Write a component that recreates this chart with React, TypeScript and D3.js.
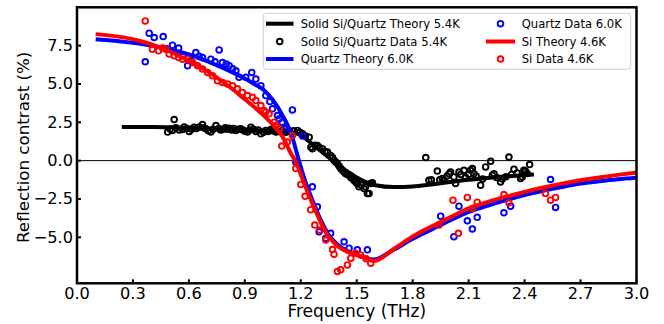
import React from 'react';
import * as d3 from 'd3';

const W = 664;
const H = 324;
const PLOT = { left: 77, right: 636.5, top: 7.3, bottom: 283.3 };

const xTicks = [0, 0.3, 0.6, 0.9, 1.2, 1.5, 1.8, 2.1, 2.4, 2.7, 3.0];
const yTicks = [-5, -2.5, 0, 2.5, 5, 7.5];

type P = [number, number];

const solidTheory: P[] = [
  [0.24, 2.2], [0.4, 2.2], [0.6, 2.15], [0.8, 2.05], [1.0, 1.95], [1.1, 1.9], [1.15, 1.85],
  [1.2, 1.65], [1.25, 1.2], [1.3, 0.7], [1.35, 0.2], [1.4, -0.3], [1.45, -0.7], [1.5, -1.1],
  [1.55, -1.4], [1.6, -1.6], [1.7, -1.72], [1.8, -1.68], [1.9, -1.55], [2.0, -1.4],
  [2.1, -1.25], [2.2, -1.13], [2.3, -1.03], [2.45, -0.9],
];

const solidData: P[] = [
  [0.486, 1.86], [0.5, 2.05], [0.512, 1.97], [0.521, 2.68], [0.53, 2.15], [0.548, 2.0],
  [0.566, 2.03], [0.575, 2.2], [0.59, 2.1], [0.602, 1.9], [0.615, 2.05], [0.628, 2.18],
  [0.64, 2.1], [0.655, 2.2], [0.673, 2.35], [0.68, 2.15], [0.691, 2.08], [0.705, 1.95],
  [0.718, 1.86], [0.73, 2.05], [0.745, 2.29], [0.76, 2.1], [0.77, 2.0], [0.78, 2.03],
  [0.795, 2.15], [0.805, 2.05], [0.816, 2.12], [0.83, 2.0], [0.84, 2.1], [0.852, 1.97],
  [0.865, 2.05], [0.878, 2.08], [0.89, 2.0], [0.9, 1.92], [0.914, 1.86], [0.925, 2.0],
  [0.932, 2.18], [0.945, 2.05], [0.959, 1.9], [0.972, 2.0], [0.986, 1.75], [1.0, 1.85],
  [1.012, 1.97], [1.025, 1.9], [1.039, 2.03], [1.05, 1.95], [1.066, 1.86], [1.08, 1.9],
  [1.1, 1.97], [1.12, 1.85], [1.14, 1.9], [1.16, 1.95], [1.182, 1.97], [1.195, 1.85],
  [1.209, 1.75], [1.225, 1.6], [1.245, 1.53], [1.254, 0.88], [1.262, 0.78], [1.275, 1.0],
  [1.289, 0.99], [1.3, 0.85], [1.316, 0.78], [1.33, 0.6], [1.343, 0.56], [1.36, 0.34],
  [1.37, 0.2], [1.378, 0.02], [1.387, -0.09], [1.396, -0.19], [1.405, -0.35], [1.414, -0.52],
  [1.423, -0.63], [1.432, -0.74], [1.441, -0.85], [1.45, -0.9], [1.459, -0.95], [1.468, -1.1],
  [1.476, -1.17], [1.486, -1.3], [1.494, -1.39], [1.503, -1.5], [1.512, -1.71], [1.525, -1.6],
  [1.539, -1.82], [1.547, -1.71], [1.557, -2.14], [1.566, -2.14], [1.575, -1.49], [1.584, -1.45],
  [1.87, 0.2], [1.887, -1.28], [1.9, -1.25], [1.932, -0.68], [1.945, -1.25], [1.959, -1.17],
  [1.968, -1.28], [1.985, -1.0], [1.995, -0.85], [2.003, -0.74], [2.021, -1.06], [2.03, -1.49],
  [2.048, -0.74], [2.057, -0.9], [2.075, -0.63], [2.084, -1.1], [2.1, -0.9], [2.11, -0.63],
  [2.12, -0.52], [2.128, -0.85], [2.14, -1.0], [2.164, -1.6], [2.175, -1.2], [2.191, -0.41],
  [2.218, -0.04], [2.227, -0.95], [2.236, -0.85], [2.25, -1.1], [2.271, -1.39], [2.28, -1.2],
  [2.3, -1.05], [2.316, 0.23], [2.33, -0.9], [2.343, -0.56], [2.36, -0.8], [2.378, -1.17],
  [2.387, -1.06], [2.396, -0.63], [2.405, -0.7], [2.414, -0.84], [2.427, -0.26],
];

const quartzTheory: P[] = [
  [0.1, 7.92], [0.2, 7.82], [0.3, 7.68], [0.4, 7.5], [0.5, 7.25], [0.6, 6.92], [0.7, 6.48],
  [0.8, 5.95], [0.9, 5.35], [0.95, 5.0], [1.0, 4.62], [1.05, 3.95], [1.1, 3.0], [1.15, 1.7],
  [1.19, 0.0], [1.22, -1.2], [1.25, -2.2], [1.28, -3.1], [1.31, -3.95], [1.34, -4.65],
  [1.37, -5.15], [1.4, -5.5], [1.45, -5.9], [1.5, -6.15], [1.55, -6.35], [1.59, -6.45],
  [1.7, -5.8], [1.8, -5.1], [1.9, -4.5], [2.0, -3.9], [2.1, -3.35], [2.2, -2.95],
  [2.3, -2.58], [2.4, -2.25], [2.5, -1.97], [2.6, -1.72], [2.7, -1.5], [2.8, -1.35],
  [2.9, -1.22], [3.0, -1.12],
];

const quartzData: P[] = [
  [0.366, 6.45], [0.387, 8.31], [0.414, 8.03], [0.462, 8.09], [0.48, 7.3], [0.512, 7.53],
  [0.545, 7.34], [0.57, 6.9], [0.593, 6.19], [0.61, 6.5], [0.637, 7.05], [0.655, 6.8],
  [0.673, 6.73], [0.718, 6.62], [0.74, 6.45], [0.762, 7.22], [0.78, 6.4], [0.8, 6.3],
  [0.816, 6.19], [0.835, 6.0], [0.852, 5.86], [0.869, 5.43], [0.905, 5.43], [0.937, 5.75],
  [0.959, 5.32], [0.986, 4.89], [1.012, 4.24], [1.034, 3.85], [1.048, 3.38], [1.075, 2.94],
  [1.084, 2.73], [1.1, 2.51], [1.111, 2.08], [1.155, 3.31], [1.209, 1.6], [1.173, -0.09],
  [1.262, -1.71], [1.289, -3.01], [1.298, -4.63], [1.334, -5.07], [1.36, -4.74],
  [1.432, -5.29], [1.459, -5.71], [1.503, -5.82], [1.557, -5.82],
  [1.95, -3.62], [2.021, -4.96], [2.048, -2.97], [2.093, -3.92], [2.12, -4.46], [2.146, -3.7],
  [2.289, -3.4], [2.325, -2.97], [2.539, -1.23], [2.566, -3.05],
];

const siTheory: P[] = [
  [0.1, 8.25], [0.2, 8.12], [0.3, 7.92], [0.4, 7.58], [0.5, 7.1], [0.6, 6.5], [0.7, 5.82],
  [0.8, 4.98], [0.9, 4.0], [0.95, 3.5], [1.0, 2.95], [1.05, 2.35], [1.1, 1.6], [1.15, 0.4],
  [1.17, 0.0], [1.2, -0.9], [1.22, -1.55], [1.25, -2.45], [1.28, -3.3], [1.31, -4.1],
  [1.34, -4.8], [1.37, -5.25], [1.4, -5.6], [1.45, -5.95], [1.5, -6.15], [1.55, -6.35],
  [1.59, -6.55], [1.7, -5.75], [1.8, -4.95], [1.9, -4.3], [2.0, -3.7], [2.1, -3.12],
  [2.2, -2.7], [2.3, -2.35], [2.4, -2.04], [2.5, -1.75], [2.6, -1.5], [2.7, -1.28],
  [2.8, -1.1], [2.9, -0.93], [3.0, -0.78],
];

const siData: P[] = [
  [0.366, 9.11], [0.404, 7.27], [0.437, 7.16], [0.459, 7.34], [0.477, 7.27], [0.494, 6.95],
  [0.521, 6.84], [0.545, 6.73], [0.566, 6.62], [0.593, 6.62], [0.62, 6.4], [0.646, 6.19],
  [0.673, 5.97], [0.7, 5.75], [0.726, 5.54], [0.753, 5.21], [0.78, 5.1], [0.807, 5.0],
  [0.834, 4.89], [0.86, 4.68], [0.887, 4.45], [0.914, 4.24], [0.941, 4.13], [0.959, 3.92],
  [0.986, 3.59], [1.003, 3.27], [1.012, 3.16], [1.03, 3.05], [1.057, 2.51], [1.066, 2.29],
  [1.084, 2.08], [1.098, 0.95], [1.128, 1.21], [1.155, 1.64], [1.173, -0.52], [1.2, -1.55],
  [1.223, -2.33], [1.253, -3.2], [1.275, -4.2], [1.302, -4.53], [1.334, -5.18], [1.37, -5.8],
  [1.378, -6.1], [1.396, -7.23], [1.414, -7.12], [1.45, -6.8], [1.468, -6.36], [1.494, -6.04],
  [1.521, -6.15], [1.55, -6.4], [1.575, -6.69],
  [1.941, -4.2], [2.016, -2.58], [2.045, -4.74], [2.093, -2.4], [2.12, -3.12], [2.146, -2.71],
  [2.289, -2.21], [2.316, -2.75], [2.512, -2.14], [2.539, -2.58], [2.566, -2.4],
];

const legendLabels = [
  'Solid Si/Quartz Theory 5.4K',
  'Solid Si/Quartz Data 5.4K',
  'Quartz Theory 6.0K',
  'Quartz Data 6.0K',
  'Si Theory 4.6K',
  'Si Data 4.6K',
];

const FONT = '"DejaVu Sans", sans-serif';

export default function App() {
  const x = d3.scaleLinear().domain([0, 3]).range([PLOT.left, PLOT.right]);
  const y = d3.scaleLinear().domain([-8, 10]).range([PLOT.bottom, PLOT.top]);
  const line = d3
    .line<P>()
    .x((d) => x(d[0]))
    .y((d) => y(d[1]))
    .curve(d3.curveMonotoneX);

  const R = 2.8;
  const SW = 1.9;
  const LW = 4;

  const circles = (data: P[], color: string) =>
    data.map((d, i) => (
      <circle key={i} cx={x(d[0])} cy={y(d[1])} r={R} fill="none" stroke={color} strokeWidth={SW} />
    ));

  const fmt = (v: number) => (v < 0 ? '\u2212' + Math.abs(v).toFixed(1) : v.toFixed(1));

  const legendItems = [
    { kind: 'line', color: '#000000' },
    { kind: 'dot', color: '#000000' },
    { kind: 'line', color: '#0000ff' },
    { kind: 'dot', color: '#0000ff' },
    { kind: 'line', color: '#ff0000' },
    { kind: 'dot', color: '#ff0000' },
  ];
  const legRows = [23.7, 41.5, 59];
  const legCols = [
    { h0: 266, h1: 293.5, tx: 300.7 },
    { h0: 486, h1: 515, tx: 521.7 },
  ];

  return (
    <svg
      width={W}
      height={H}
      style={{ position: 'absolute', left: 0, top: 0, background: '#fff' }}
      fontFamily={FONT}
    >
      <rect x={0} y={0} width={W} height={H} fill="#fff" />
      <defs>
        <clipPath id="plotClip">
          <rect x={PLOT.left} y={PLOT.top} width={PLOT.right - PLOT.left} height={PLOT.bottom - PLOT.top} />
        </clipPath>
      </defs>
      <g clipPath="url(#plotClip)">
        <line x1={PLOT.left} x2={PLOT.right} y1={y(0)} y2={y(0)} stroke="#000" strokeWidth={1} />
        <path d={line(solidTheory) || ''} fill="none" stroke="#000" strokeWidth={LW} />
        {circles(solidData, '#000000')}
        <path d={line(quartzTheory) || ''} fill="none" stroke="#0000ff" strokeWidth={LW} />
        {circles(quartzData, '#0000ff')}
        <path d={line(siTheory) || ''} fill="none" stroke="#ff0000" strokeWidth={LW} />
        {circles(siData, '#ff0000')}
      </g>

      {/* ticks */}
      {xTicks.map((t) => (
        <g key={'xt' + t}>
          <line x1={x(t)} x2={x(t)} y1={PLOT.bottom} y2={PLOT.bottom - 4} stroke="#000" strokeWidth={2} />
          <text x={x(t)} y={298.5} fontSize={16.2} textAnchor="middle" fill="#000">
            {fmt(t)}
          </text>
        </g>
      ))}
      {yTicks.map((t) => (
        <g key={'yt' + t}>
          <line x1={PLOT.left} x2={PLOT.left + 4} y1={y(t)} y2={y(t)} stroke="#000" strokeWidth={2} />
          <text x={73} y={y(t)} fontSize={16.2} textAnchor="end" dominantBaseline="central" fill="#000">
            {fmt(t)}
          </text>
        </g>
      ))}

      {/* frame */}
      <rect
        x={PLOT.left}
        y={PLOT.top}
        width={PLOT.right - PLOT.left}
        height={PLOT.bottom - PLOT.top}
        fill="none"
        stroke="#000"
        strokeWidth={2.5}
      />

      {/* axis labels */}
      <text x={(PLOT.left + PLOT.right) / 2} y={317} fontSize={17} textAnchor="middle" fill="#000">
        Frequency (THz)
      </text>
      <text
        transform={`translate(23,${(PLOT.top + PLOT.bottom) / 2 + 2}) rotate(-90)`}
        fontSize={16.7}
        textAnchor="middle"
        dominantBaseline="central"
        fill="#000"
      >
        Reflection contrast (%)
      </text>

      {/* legend */}
      <rect x={263.3} y={13.3} width={367.4} height={56} rx={3} fill="#fff" fillOpacity={0.8} stroke="#d0d0d0" strokeWidth={1} />
      {legendItems.map((it, i) => {
        const col = legCols[Math.floor(i / 3)];
        const ry = legRows[i % 3];
        return (
          <g key={'lg' + i}>
            {it.kind === 'line' ? (
              <line x1={col.h0} x2={col.h1} y1={ry} y2={ry} stroke={it.color} strokeWidth={LW} />
            ) : (
              <circle cx={(col.h0 + col.h1) / 2} cy={ry} r={R} fill="none" stroke={it.color} strokeWidth={SW} />
            )}
            <text x={col.tx} y={ry} fontSize={11.6} dominantBaseline="central" fill="#000">
              {legendLabels[i]}
            </text>
          </g>
        );
      })}
    </svg>
  );
}
